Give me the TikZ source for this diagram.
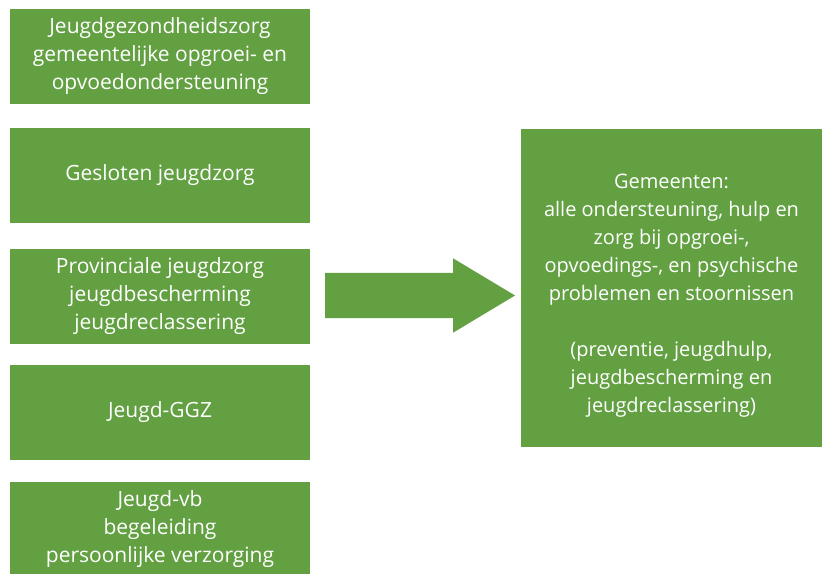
\documentclass[tikz,border=0pt]{standalone}
\usepackage{fontspec}
\setmainfont{Open Sans}
\usetikzlibrary{shapes.arrows}
\definecolor{groen}{HTML}{62A042}
\tikzset{
  blok/.style={fill=groen,text=white,minimum width=300pt,minimum height=95pt,
    inner sep=0pt,align=center,font=\fontsize{21}{28}\selectfont},
}
\begin{document}
\begin{tikzpicture}[x=1pt,y=-1pt]
 \useasboundingbox (0,0) rectangle (824,573);
 \clip (0,0) rectangle (824,573);
 \node[blok] (jgz) at (160,56.5) {Jeugdgezondheidszorg\\gemeentelijke opgroei- en\\opvoedondersteuning};
 \node[blok] (gesloten) at (160,175.5) {Gesloten jeugdzorg};
 \node[blok] (provinciaal) at (160,296) {Provinciale jeugdzorg\\jeugdbescherming\\jeugdreclassering};
 \node[blok] (ggz) at (160,412) {Jeugd-GGZ};
 \node[blok] (vb) at (160,529.5) {Jeugd-vb\\begeleiding\\persoonlijke verzorging};
 \node[blok,minimum width=301pt,minimum height=318pt,font=\fontsize{20}{28}\selectfont] (gemeenten) at (671.5,288)
   {\rule{0pt}{30pt}Gemeenten:\\alle ondersteuning, hulp en\\zorg bij opgroei-,\\opvoedings-, en psychische\\problemen en stoornissen\\[28pt](preventie, jeugdhulp,\\jeugdbescherming en\\jeugdreclassering)};
 \node[single arrow,fill=groen,minimum height=190pt,inner sep=0pt,inner ysep=22.5pt,outer sep=0pt,
   single arrow head extend=14.5pt,single arrow tip angle=62,anchor=tail] (pijl) at (325,295.5) {};
\end{tikzpicture}
\end{document}
